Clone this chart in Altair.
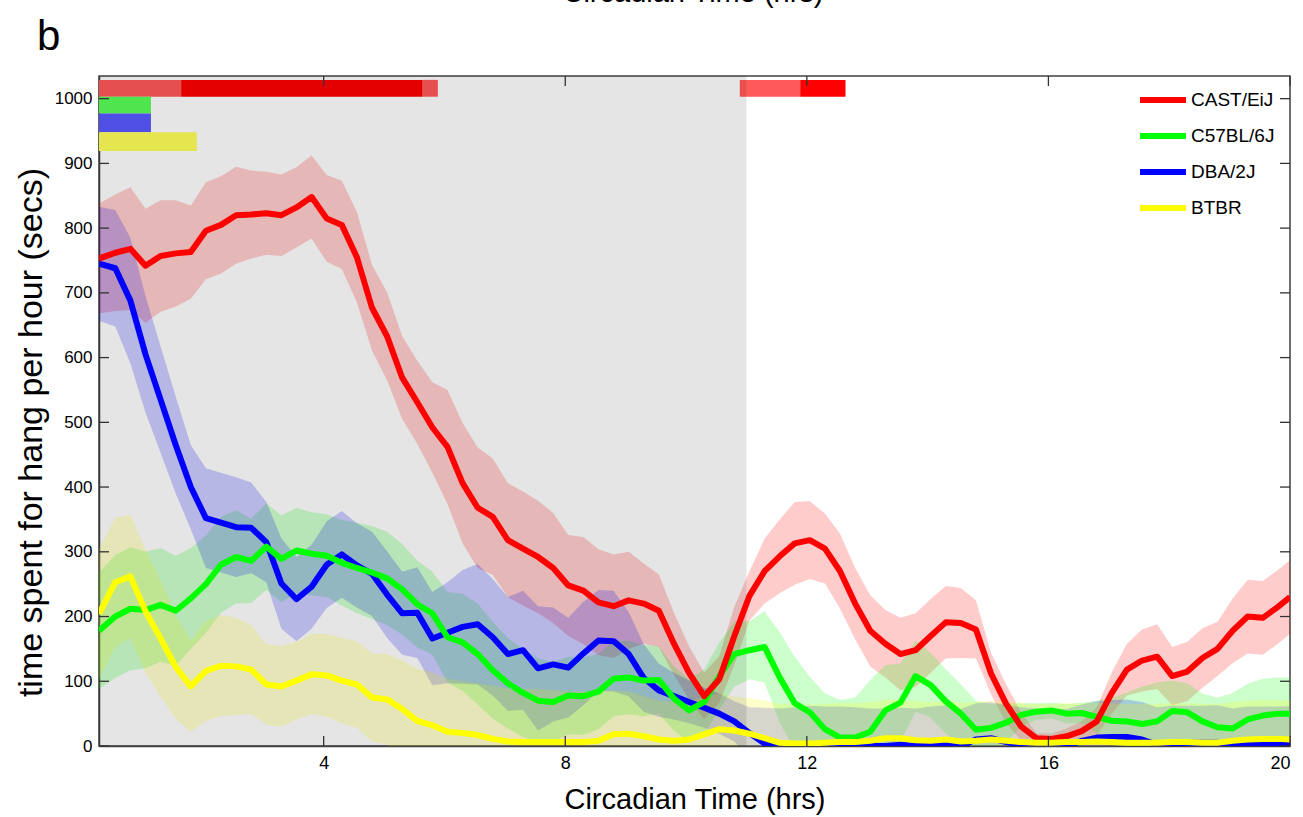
import altair as alt
import pandas as pd

# ---------------- data ----------------
hours = [0.28, 0.55, 0.80, 1.05, 1.30, 1.55, 1.80, 2.05, 2.30, 2.55,
         2.80, 3.05, 3.30, 3.55, 3.80, 4.05, 4.30, 4.55, 4.80, 5.05,
         5.30, 5.55, 5.80, 6.05, 6.30, 6.55, 6.80, 7.05, 7.30, 7.55,
         7.80, 8.05, 8.30, 8.55, 8.80, 9.05, 9.30, 9.55, 9.80, 10.05,
         10.30, 10.55, 10.80, 11.05, 11.30, 11.55, 11.80, 12.05, 12.30, 12.55,
         12.80, 13.05, 13.30, 13.55, 13.80, 14.05, 14.30, 14.55, 14.80, 15.05,
         15.30, 15.55, 15.80, 16.05, 16.30, 16.55, 16.80, 17.05, 17.30, 17.55,
         17.80, 18.05, 18.30, 18.55, 18.80, 19.05, 19.30, 19.55, 19.80, 20.00]

cast_mean = [753, 762, 768, 742, 757, 761, 763, 796, 805, 820,
             821, 823, 820, 832, 848, 815, 805, 755, 677, 633,
             569, 531, 492, 462, 406, 368, 354, 318, 305, 292,
             275, 248, 240, 222, 216, 225, 220, 209, 158, 113,
             77, 103, 170, 232, 270, 293, 313, 318, 305, 270,
             220, 178, 158, 142, 148, 170, 191, 190, 180, 112,
             65, 30, 12, 11, 15, 23, 38, 82, 118, 132,
             138, 108, 115, 136, 150, 178, 200, 198, 215, 230]
cast_sem = [85, 90, 95, 88, 86, 82, 72, 75, 75, 75,
            68, 64, 63, 62, 64, 67, 68, 70, 66, 68,
            64, 64, 70, 88, 93, 93, 90, 88, 88, 87,
            85, 78, 83, 82, 80, 75, 62, 56, 48, 41,
            36, 36, 45, 38, 50, 57, 64, 60, 54, 58,
            55, 55, 52, 56, 57, 57, 56, 54, 45, 32,
            30, 22, 8, 8, 12, 15, 22, 32, 40, 48,
            50, 45, 46, 46, 42, 50, 57, 57, 57, 57]

c57_mean = [178, 200, 212, 210, 218, 209, 228, 250, 280, 292,
            286, 308, 289, 302, 297, 294, 283, 275, 268, 259,
            242, 219, 205, 168, 160, 142, 117, 97, 82, 70,
            68, 78, 77, 84, 104, 106, 101, 102, 73, 55,
            68, 108, 142, 148, 153, 106, 66, 52, 26, 13,
            13, 22, 55, 67, 108, 94, 69, 50, 25, 28,
            36, 48, 53, 55, 50, 51, 45, 39, 38, 34,
            38, 54, 52, 38, 29, 27, 41, 47, 50, 50]
c57_sem = [90, 95, 95, 90, 88, 85, 78, 75, 74, 72,
           65, 67, 67, 66, 64, 64, 66, 70, 72, 72,
           70, 67, 64, 70, 75, 78, 75, 70, 68, 65,
           62, 60, 60, 58, 58, 57, 55, 52, 50, 48,
           50, 52, 50, 45, 55, 70, 72, 55, 55, 58,
           62, 80, 70, 60, 55, 50, 50, 45, 45, 37,
           30, 18, 13, 12, 15, 16, 25, 35, 45, 58,
           60, 47, 45, 43, 46, 55, 55, 57, 56, 56]

dba_mean = [745, 738, 688, 605, 535, 465, 400, 352, 345, 338,
            337, 315, 251, 227, 246, 280, 296, 279, 266, 234,
            205, 206, 166, 175, 184, 188, 168, 142, 148, 120,
            126, 121, 143, 163, 162, 142, 105, 86, 77, 68,
            59, 50, 38, 20, 4, 0, 0, 2, 3, 3,
            3, 0, 0, 2, 0, 3, 5, 0, 10, 12,
            6, 2, 0, 0, 0, 8, 13, 14, 14, 10,
            2, 4, 5, 5, 5, 0, 3, 3, 3, 3]
dba_sem = [88, 90, 97, 90, 82, 75, 65, 77, 77, 77,
           70, 62, 70, 65, 65, 67, 67, 65, 65, 67,
           64, 70, 72, 78, 88, 93, 90, 88, 92, 96,
           88, 77, 80, 78, 78, 65, 52, 41, 36, 33,
           31, 31, 31, 40, 55, 58, 60, 60, 58, 58,
           57, 58, 58, 57, 58, 58, 58, 57, 56, 56,
           57, 58, 58, 58, 57, 56, 56, 57, 58, 58,
           58, 58, 57, 57, 58, 58, 58, 58, 58, 58]

btbr_mean = [204, 253, 262, 208, 166, 122, 92, 116, 124, 123,
             118, 95, 92, 101, 111, 109, 101, 95, 75, 72,
             57, 39, 32, 22, 20, 17, 11, 7, 6, 6,
             6, 6, 6, 8, 18, 19, 15, 10, 8, 10,
             18, 26, 24, 19, 12, 5, 4, 4, 5, 6,
             6, 8, 12, 12, 9, 8, 10, 7, 8, 10,
             8, 6, 5, 5, 6, 6, 7, 6, 5, 5,
             5, 6, 6, 5, 5, 8, 10, 11, 11, 10]
btbr_sem = [100, 100, 95, 95, 90, 80, 70, 77, 78, 75,
            68, 62, 62, 60, 62, 64, 66, 67, 68, 70,
            75, 80, 82, 82, 80, 80, 82, 82, 82, 82,
            80, 78, 78, 75, 68, 65, 62, 60, 60, 60,
            58, 55, 52, 55, 58, 60, 60, 60, 60, 60,
            60, 60, 60, 60, 60, 60, 60, 60, 60, 60,
            60, 60, 60, 60, 60, 60, 60, 60, 60, 60,
            60, 60, 60, 60, 60, 60, 60, 60, 60, 60]

strains = ["CAST/EiJ", "C57BL/6J", "DBA/2J", "BTBR"]
line_colors = ["#FF0000", "#00FF00", "#0000FF", "#FFFF00"]
means = [cast_mean, c57_mean, dba_mean, btbr_mean]
sems = [cast_sem, c57_sem, dba_sem, btbr_sem]

# significance bars at the top (start hr, end hr, strain row, shade)
sig_start = [0.28, 1.64, 5.64, 10.89, 11.89, 0.28, 0.28, 0.28]
sig_end = [1.64, 5.64, 5.89, 11.89, 12.64, 1.14, 1.14, 1.90]
sig_strain = ["CAST/EiJ", "CAST/EiJ", "CAST/EiJ", "CAST/EiJ", "CAST/EiJ",
              "C57BL/6J", "DBA/2J", "BTBR"]
sig_shade = ["light", "dark", "light", "light", "dark", "light", "light", "light"]
row_low = {"CAST/EiJ": 1003, "C57BL/6J": 977, "DBA/2J": 948, "BTBR": 919}
row_high = {"CAST/EiJ": 1029, "C57BL/6J": 1003, "DBA/2J": 977, "BTBR": 948}
bar_colors = {("CAST/EiJ", "light"): "#FF5959", ("CAST/EiJ", "dark"): "#FF0000",
              ("C57BL/6J", "light"): "#59FF59", ("DBA/2J", "light"): "#5959FF",
              ("BTBR", "light"): "#FFFF59"}

# dark phase (shaded) interval
dark_start = [0.28]
dark_end = [11.0]

x_ticks = [4, 8, 12, 16, 20]
y_ticks = [0, 100, 200, 300, 400, 500, 600, 700, 800, 900, 1000]

# ---------------- tables ----------------
rows = []
for name, m, s in zip(strains, means, sems):
    for h, mv, sv in zip(hours, m, s):
        rows.append({"strain": name, "hour": h, "mean": mv, "lo": mv - sv, "hi": mv + sv})
df = pd.DataFrame(rows)

sig_df = pd.DataFrame({
    "start": sig_start, "end": sig_end, "strain": sig_strain,
    "low": [row_low[s] for s in sig_strain], "high": [row_high[s] for s in sig_strain],
    "color": [bar_colors[(s, sh)] for s, sh in zip(sig_strain, sig_shade)],
})
dark_df = pd.DataFrame({"start": dark_start, "end": dark_end})
xt_df = pd.DataFrame({"v": x_ticks})
yt_df = pd.DataFrame({"v": y_ticks})

W, H = 1191, 670
XD = [0.28, 20]
YD = [0, 1035]
xs = alt.Scale(domain=XD, nice=False, zero=False)
ys = alt.Scale(domain=YD, nice=False, zero=False)
cscale = alt.Scale(domain=strains, range=line_colors)

FONT = "Liberation Sans"
x_axis = alt.Axis(values=x_ticks, format="d", title="Circadian Time (hrs)", ticks=False,
                  tickSize=0, labelPadding=8, grid=False, domainColor="#404040",
                  domainWidth=1.5, labelFont=FONT, labelFontSize=18, labelColor="#000000",
                  titleFont=FONT, titleFontSize=29, titleFontWeight="normal",
                  titleColor="#000000", titleBaseline="alphabetic", titleY=62)
y_axis = alt.Axis(values=y_ticks, format="d", title="time spent for hang per hour (secs)",
                  ticks=False, tickSize=0, labelPadding=7, grid=False,
                  domainColor="#404040", domainWidth=1.5,
                  labelFont=FONT, labelFontSize=17, labelColor="#000000",
                  titleFont=FONT, titleFontSize=34, titleFontWeight="normal",
                  titleColor="#000000", titleAngle=270, titleBaseline="alphabetic",
                  titleAlign="center", titleX=-58, titleY=356)


def X(field):
    return alt.X(field, scale=xs, axis=x_axis)


def Y(field):
    return alt.Y(field, scale=ys, axis=y_axis)


bars = alt.Chart(sig_df).mark_rect().encode(
    x=X("start:Q"), x2="end:Q",
    y=Y("low:Q"), y2="high:Q",
    color=alt.Color("color:N", scale=None),
)

bands = alt.Chart(df).mark_area(opacity=0.2, clip=True).encode(
    x=X("hour:Q"),
    y=Y("lo:Q"),
    y2="hi:Q",
    color=alt.Color("strain:N", scale=cscale, legend=None),
    detail="strain:N",
)

dark = alt.Chart(dark_df).mark_rect(color="#000000", opacity=0.1).encode(
    x=X("start:Q"), x2="end:Q",
    y=alt.value(0), y2=alt.value(H),
)

line_order = ["DBA/2J", "C57BL/6J", "CAST/EiJ", "BTBR"]
lines = []
for name in line_order:
    lines.append(
        alt.Chart(df[df.strain == name]).mark_line(strokeWidth=6, clip=True,
                                                    strokeJoin="round").encode(
            x=X("hour:Q"),
            y=Y("mean:Q"),
            color=alt.Color("strain:N", scale=cscale, legend=None),
        )
    )

tick_color = "#333333"
ytl = alt.Chart(yt_df).mark_rule(color=tick_color, strokeWidth=1.3).encode(
    y=Y("v:Q"), x=alt.value(0), x2=alt.value(10))
ytr = alt.Chart(yt_df).mark_rule(color=tick_color, strokeWidth=1.3).encode(
    y=Y("v:Q"), x=alt.value(W - 10), x2=alt.value(W))
xtb = alt.Chart(xt_df).mark_rule(color=tick_color, strokeWidth=1.3).encode(
    x=X("v:Q"), y=alt.value(H - 10), y2=alt.value(H))
xtt = alt.Chart(xt_df).mark_rule(color=tick_color, strokeWidth=1.3).encode(
    x=X("v:Q"), y=alt.value(0), y2=alt.value(10))

legend_layers = []
for i, (name, col) in enumerate(zip(strains, line_colors)):
    yy = 24 + 36 * i
    one = pd.DataFrame({"label": [name]})
    legend_layers.append(
        alt.Chart(one).mark_rule(color=col, strokeWidth=6).encode(
            x=alt.value(1041), x2=alt.value(1087), y=alt.value(yy)))
    legend_layers.append(
        alt.Chart(one).mark_text(align="left", baseline="middle", font=FONT,
                                 fontSize=19, color="#000000").encode(
            x=alt.value(1092), y=alt.value(yy), text="label:N"))

ann = pd.DataFrame({"label": ["b"]})
panel = alt.Chart(ann).mark_text(align="left", baseline="alphabetic", font=FONT,
                                 fontSize=42, color="#000000").encode(
    x=alt.value(-62), y=alt.value(-26), text="label:N")
prev = pd.DataFrame({"label": ["Circadian Time (hrs)"]})
prev_title = alt.Chart(prev).mark_text(align="center", baseline="alphabetic",
                                       font=FONT, fontSize=29,
                                       color="#000000").encode(
    x=alt.value(594), y=alt.value(-74), text="label:N")

chart = alt.layer(bars, bands, dark, *lines, ytl, ytr, xtb, xtt, *legend_layers,
                  panel, prev_title).properties(
    width=W, height=H,
    autosize=alt.AutoSizeParams(type="none"),
    padding={"left": 99, "top": 76, "right": 13, "bottom": 71},
    background="#FFFFFF",
).configure_view(
    stroke="#404040", strokeWidth=1.5
)

chart.save("out.html", embed_options={"renderer": "svg", "actions": False})
